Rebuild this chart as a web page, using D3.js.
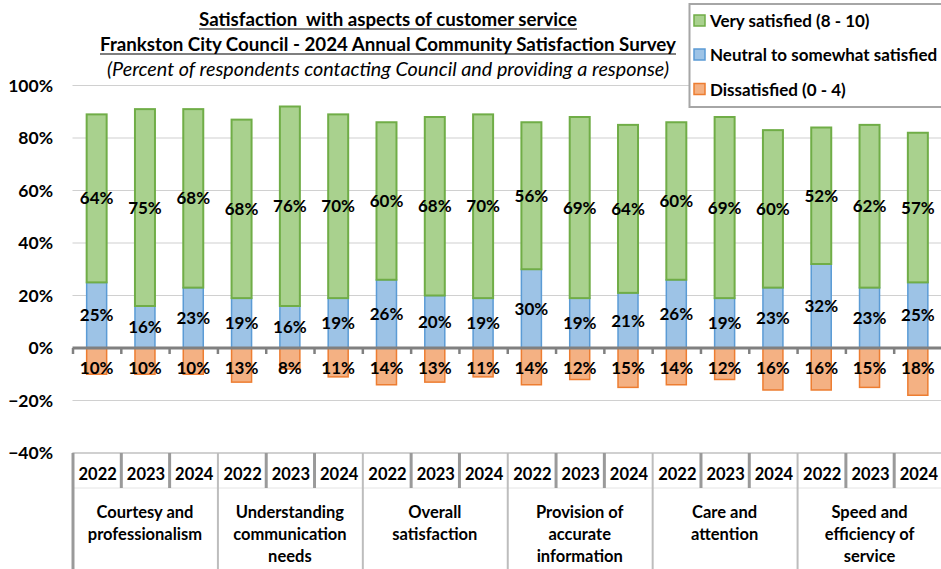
<!DOCTYPE html>
<html>
<head>
<meta charset="utf-8">
<script src="https://cdn.jsdelivr.net/npm/d3@7/dist/d3.min.js"></script>
<style>
  html, body { margin: 0; padding: 0; background: #fff; }
  svg { display: block; font-family: Lato, "Open Sans", sans-serif; }
</style>
</head>
<body>
<svg id="chart" width="941" height="569"></svg>
<script>
// Customer service satisfaction, three survey years per aspect
const groups = [
  ["Courtesy and", "professionalism"],
  ["Understanding", "communication", "needs"],
  ["Overall", "satisfaction"],
  ["Provision of", "accurate", "information"],
  ["Care and", "attention"],
  ["Speed and", "efficiency of", "service"]
];
const years = ["2022", "2023", "2024"];

const verySatisfied = [64, 75, 68, 68, 76, 70, 60, 68, 70, 56, 69, 64, 60, 69, 60, 52, 62, 57];
const neutral       = [25, 16, 23, 19, 16, 19, 26, 20, 19, 30, 19, 21, 26, 19, 23, 32, 23, 25];
const dissatisfied  = [10, 10, 10, 13,  8, 11, 14, 13, 11, 14, 12, 15, 14, 12, 16, 16, 15, 18];

const yTicks = [1.0, 0.8, 0.6, 0.4, 0.2, 0, -0.2, -0.4];

const seriesNames = ["Very satisfied (8 - 10)", "Neutral to somewhat satisfied", "Dissatisfied (0 - 4)"];
const titleLines = [
  "Satisfaction  with aspects of customer service",
  "Frankston City Council - 2024 Annual Community Satisfaction Survey",
  "(Percent of respondents contacting Council and providing a response)"
];

const colors = {
  green:  { fill: "#A9D18E", stroke: "#70AD47" },
  blue:   { fill: "#9DC3E6", stroke: "#5B9BD5" },
  orange: { fill: "#F4B183", stroke: "#ED7D31" }
};

const svg = d3.select("#chart");
const W = 941, H = 569;
const plotLeft = 72.5, plotRight = 942;

// one slot per (aspect, year) pair
const rows = [];
groups.forEach((g, gi) => years.forEach((yr, yi) => {
  const i = gi * years.length + yi;
  rows.push({ i, gi, yr, very: verySatisfied[i] / 100, neu: neutral[i] / 100, dis: dissatisfied[i] / 100 });
}));

const x = d3.scaleBand()
  .domain(rows.map(d => d.i))
  .range([plotLeft, plotRight])
  .paddingInner(0.586)
  .paddingOuter(0.293);
const step = x.step();

const y = d3.scaleLinear().domain([-0.4, 1.0]).range([453, 85.5]);

// horizontal gridlines
svg.append("g")
  .selectAll("line")
  .data(yTicks.filter(t => t !== 0))
  .join("line")
  .attr("x1", plotLeft).attr("x2", plotRight)
  .attr("y1", d => y(d)).attr("y2", d => y(d))
  .attr("stroke", "#D0D0D0").attr("stroke-width", 1.2);

// y axis labels
const yAxis = d3.axisLeft(y).tickValues(yTicks).tickFormat(d3.format(".0%")).tickSize(0).tickPadding(0);
const yg = svg.append("g").attr("transform", "translate(53,0)").call(yAxis);
yg.select(".domain").remove();
yg.selectAll("text")
  .attr("font-family", "Lato, sans-serif")
  .attr("font-size", 17.5).attr("font-weight", 700).attr("fill", "#000");

// bars
const bars = svg.append("g");
bars.selectAll("rect.neu").data(rows).join("rect")
  .attr("x", d => x(d.i)).attr("width", x.bandwidth())
  .attr("y", d => y(d.neu)).attr("height", d => y(0) - y(d.neu))
  .attr("fill", colors.blue.fill).attr("stroke", colors.blue.stroke).attr("stroke-width", 1.5);
bars.selectAll("rect.very").data(rows).join("rect")
  .attr("x", d => x(d.i)).attr("width", x.bandwidth())
  .attr("y", d => y(d.neu + d.very)).attr("height", d => y(d.neu) - y(d.neu + d.very))
  .attr("fill", colors.green.fill).attr("stroke", colors.green.stroke).attr("stroke-width", 2);
bars.selectAll("rect.dis").data(rows).join("rect")
  .attr("x", d => x(d.i)).attr("width", x.bandwidth())
  .attr("y", y(0)).attr("height", d => y(-d.dis) - y(0))
  .attr("fill", colors.orange.fill).attr("stroke", colors.orange.stroke).attr("stroke-width", 1.5);

// zero baseline with tick marks at slot boundaries
const zero = svg.append("g");
zero.append("line")
  .attr("x1", plotLeft).attr("x2", plotRight)
  .attr("y1", y(0)).attr("y2", y(0))
  .attr("stroke", "#808080").attr("stroke-width", 3);
zero.selectAll("line.tick")
  .data(d3.range(rows.length + 1))
  .join("line")
  .attr("x1", k => plotLeft + k * step + 0.5).attr("x2", k => plotLeft + k * step + 0.5)
  .attr("y1", y(0)).attr("y2", y(0) + 6)
  .attr("stroke", "#808080").attr("stroke-width", 2.5);

// value labels
const lbl = svg.append("g")
  .attr("font-family", "Lato, sans-serif")
  .attr("font-size", 17).attr("font-weight", 700)
  .attr("fill", "#000").attr("text-anchor", "middle");
const cx = d => x(d.i) + x.bandwidth() / 2;
lbl.selectAll("text.very").data(rows).join("text")
  .attr("x", cx).attr("y", d => y(d.neu + d.very / 2)).attr("dy", "0.36em")
  .text(d => Math.round(d.very * 100) + "%");
lbl.selectAll("text.neu").data(rows).join("text")
  .attr("x", cx).attr("y", d => y(d.neu / 2)).attr("dy", "0.36em")
  .text(d => Math.round(d.neu * 100) + "%");
lbl.selectAll("text.dis").data(rows).join("text")
  .attr("x", cx).attr("y", y(-0.077)).attr("dy", "0.36em")
  .text(d => Math.round(d.dis * 100) + "%");

// multi-level category axis
const cat = svg.append("g");
const boxTop = y(-0.4), yearRowBottom = 488;
cat.append("line")
  .attr("x1", plotLeft).attr("x2", plotRight).attr("y1", boxTop).attr("y2", boxTop)
  .attr("stroke", "#C8C8C8").attr("stroke-width", 1.5);
cat.append("line")
  .attr("x1", plotLeft).attr("x2", plotRight).attr("y1", yearRowBottom).attr("y2", yearRowBottom)
  .attr("stroke", "#E4E4E4").attr("stroke-width", 1);
// year separators inside each aspect
cat.selectAll("line.yr")
  .data(d3.range(rows.length + 1).filter(k => k % years.length !== 0))
  .join("line")
  .attr("x1", k => plotLeft + k * step + 0.5).attr("x2", k => plotLeft + k * step + 0.5)
  .attr("y1", boxTop).attr("y2", yearRowBottom)
  .attr("stroke", "#9A9A9A").attr("stroke-width", 3);
// aspect separators
cat.selectAll("line.grp")
  .data(d3.range(groups.length + 1))
  .join("line")
  .attr("x1", g => plotLeft + g * years.length * step + 0.5)
  .attr("x2", g => plotLeft + g * years.length * step + 0.5)
  .attr("y1", boxTop).attr("y2", H)
  .attr("stroke", g => g === 0 ? "#9A9A9A" : "#BDBDBD")
  .attr("stroke-width", g => g === 0 ? 3 : 2);

const catText = cat.append("g")
  .attr("font-family", "Lato, sans-serif")
  .attr("font-size", 16.5).attr("font-weight", 700)
  .attr("fill", "#000").attr("text-anchor", "middle");
catText.selectAll("text.yr").data(rows).join("text")
  .attr("x", d => cx(d) + 1).attr("y", 480)
  .text(d => d.yr);
groups.forEach((g, gi) => {
  const gx = plotLeft + (gi + 0.5) * years.length * step;
  catText.append("text")
    .attr("font-size", 16.5)
    .selectAll("tspan").data(g).join("tspan")
    .attr("x", gx).attr("y", (d, li) => 518 + li * 22)
    .text(d => d);
});

// legend
const lg = svg.append("g");
lg.append("rect")
  .attr("x", 689.5).attr("y", 4).attr("width", 260).attr("height", 103)
  .attr("fill", "#fff").attr("stroke", "#A6A6A6").attr("stroke-width", 2);
const legendItems = [
  { name: seriesNames[0], c: colors.green, y: 21 },
  { name: seriesNames[1], c: colors.blue,  y: 55 },
  { name: seriesNames[2], c: colors.orange, y: 89.5 }
];
legendItems.forEach(it => {
  lg.append("rect")
    .attr("x", 694).attr("y", it.y - 6).attr("width", 11).attr("height", 11)
    .attr("fill", it.c.fill).attr("stroke", it.c.stroke).attr("stroke-width", 1.5);
  lg.append("text")
    .attr("x", 710).attr("y", it.y).attr("dy", "0.36em")
    .attr("font-family", "Lato, sans-serif").attr("font-size", 17).attr("font-weight", 700)
    .attr("fill", "#000")
    .text(it.name);
});

// title block, each line scaled to its width
const titleSpecs = [
  { text: titleLines[0], y: 26, w: 378, bold: true, underline: true, italic: false },
  { text: titleLines[1], y: 51, w: 576, bold: true, underline: true, italic: false },
  { text: titleLines[2], y: 76, w: 562, bold: false, underline: false, italic: true }
];
const titleX = 388;
titleSpecs.forEach(s => {
  const t = svg.append("text")
    .attr("x", titleX).attr("y", s.y)
    .attr("text-anchor", "middle")
    .attr("font-family", "Lato, sans-serif")
    .attr("font-size", 16)
    .attr("font-weight", s.bold ? 700 : 400)
    .attr("font-style", s.italic ? "italic" : "normal")
    .attr("fill", "#000")
    .attr("xml:space", "preserve")
    .style("white-space", "pre")
    .text(s.text);
  const len = t.node().getComputedTextLength();
  t.attr("font-size", 16 * s.w / len);
  if (s.underline) {
    svg.append("line")
      .attr("x1", titleX - s.w / 2).attr("x2", titleX + s.w / 2)
      .attr("y1", s.y + 3).attr("y2", s.y + 3)
      .attr("stroke", "#000").attr("stroke-width", 1.2);
  }
});
</script>
</body>
</html>
